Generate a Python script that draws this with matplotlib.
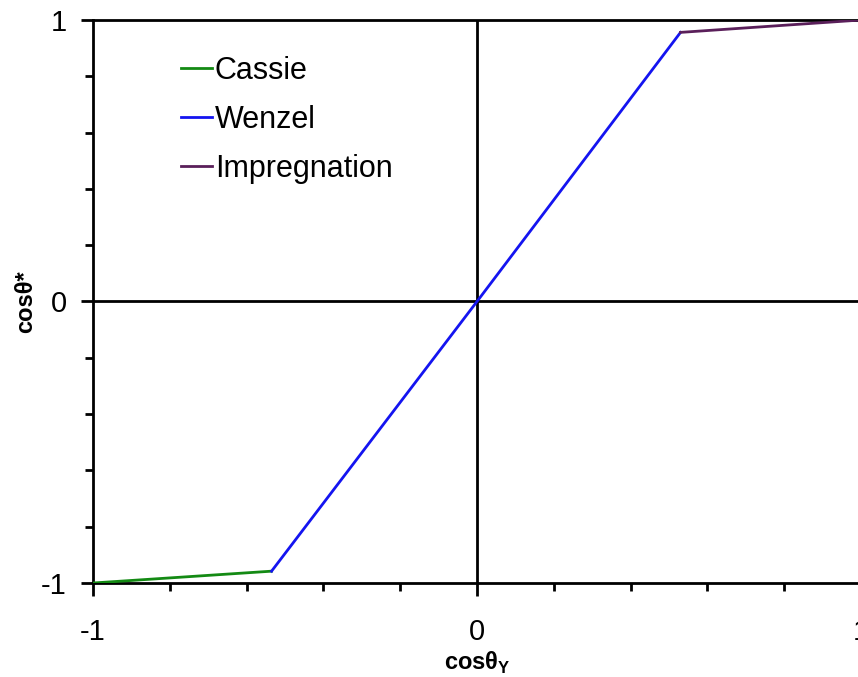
import matplotlib
matplotlib.use("Agg")
import matplotlib.pyplot as plt
from matplotlib.ticker import MultipleLocator, FixedLocator

plt.rcParams["font.family"] = ["Liberation Sans", "DejaVu Sans"]
plt.rcParams["mathtext.fontset"] = "custom"
plt.rcParams["mathtext.rm"] = "Liberation Sans"
plt.rcParams["mathtext.bf"] = "Liberation Sans:bold"

# Piecewise regimes
cassie_x = [-1.0, -0.535]
cassie_y = [-1.0, -0.958]
wenzel_x = [-0.535, 0.0, 0.53]
wenzel_y = [-0.958, 0.0, 0.956]
impreg_x = [0.53, 1.0]
impreg_y = [0.956, 1.0]

major_ticks = [-1, 0, 1]
tick_labels = ["-1", "0", "1"]

fig = plt.figure(figsize=(8.58, 6.77), dpi=100)
ax = fig.add_axes([93 / 858, 1 - 583 / 677, 768 / 858, 563 / 677])

ax.axhline(0, color="black", lw=2, zorder=1)
ax.axvline(0, color="black", lw=2, zorder=1)

ax.plot(cassie_x, cassie_y, color="#138a13", lw=2, label="Cassie", zorder=3)
ax.plot(wenzel_x, wenzel_y, color="#1414f0", lw=2, label="Wenzel", zorder=3)
ax.plot(impreg_x, impreg_y, color="#5a1f5a", lw=2, label="Impregnation", zorder=3)

ax.set_xlim(-1, 1)
ax.set_ylim(-1, 1)
ax.xaxis.set_major_locator(FixedLocator(major_ticks))
ax.yaxis.set_major_locator(FixedLocator(major_ticks))
ax.set_xticklabels(tick_labels)
ax.set_yticklabels(tick_labels)
ax.xaxis.set_minor_locator(MultipleLocator(0.2))
ax.yaxis.set_minor_locator(MultipleLocator(0.2))
ax.tick_params(which="major", direction="out", width=2, length=9, labelsize=21,
               color="black")
ax.tick_params(which="minor", direction="out", width=2, length=6, color="black")
ax.tick_params(axis="x", which="major", pad=16)
ax.tick_params(axis="y", which="major", pad=10)

for sp in ax.spines.values():
    sp.set_linewidth(2)
    sp.set_color("black")

ax.set_xlabel(r"cosθ$_{\mathbf{Y}}$", fontsize=17, fontweight="bold", va="center")
ax.xaxis.set_label_coords(0.5, -0.142)
ax.set_ylabel("cosθ*", fontsize=17, fontweight="bold", va="center")
ax.yaxis.set_label_coords(-0.088, 0.5)

ax.legend(loc="upper left", bbox_to_anchor=(0.099, 0.958), frameon=False,
          fontsize=22, handlelength=1.0, handletextpad=0.1, labelspacing=0.62,
          borderaxespad=0)

fig.savefig("out.png", dpi=100)
